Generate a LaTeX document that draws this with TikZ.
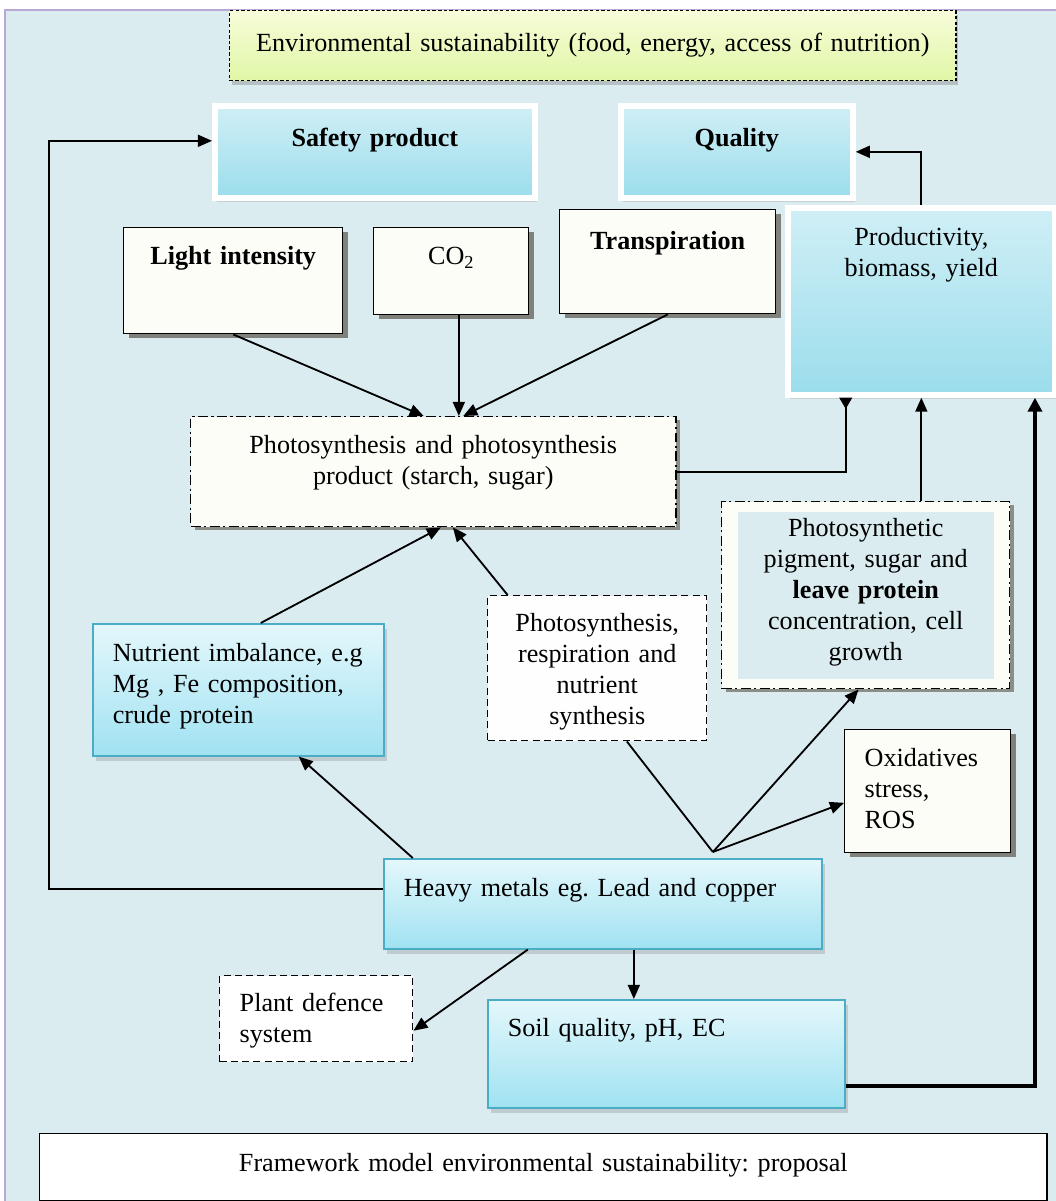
\documentclass[tikz,border=0pt]{standalone}
\usepackage{fontspec}
\setmainfont{Liberation Serif}
\usetikzlibrary{positioning,shadows,arrows.meta,calc}
\frenchspacing
\definecolor{bgblue}{RGB}{219,236,240}
\definecolor{framelilac}{RGB}{185,168,214}
\definecolor{cyanedge}{RGB}{75,172,198}
\definecolor{cyantop}{RGB}{228,247,251}
\definecolor{cyanbot}{RGB}{160,226,242}
\definecolor{beveltop}{RGB}{208,239,246}
\definecolor{bevelbot}{RGB}{155,221,236}
\definecolor{envtop}{RGB}{247,252,218}
\definecolor{envbot}{RGB}{224,247,166}
\definecolor{paper}{RGB}{253,253,248}
\definecolor{shade}{RGB}{118,118,110}
\newcommand{\fwfont}{\fontsize{18.6}{22.05}\selectfont\hyphenpenalty=10000}
\tikzset{
  fwnode/.style={anchor=north west, inner xsep=0.5cm, inner ysep=0pt,
                 font=\fwfont, align=center},
  fwpaper/.style={fwnode, draw=black, line width=1pt, fill=paper,
                  drop shadow={shadow xshift=0.14cm, shadow yshift=-0.1cm, fill=shade, opacity=.9}},
  fwcyan/.style={fwnode, draw=cyanedge, line width=1.1pt, top color=cyantop, bottom color=cyanbot,
                 drop shadow={shadow xshift=0.08cm, shadow yshift=-0.12cm, opacity=.3}},
  fwbevel/.style={fwnode, draw=white, line width=4pt, top color=beveltop, bottom color=bevelbot,
                  drop shadow={shadow xshift=0.06cm, shadow yshift=-0.1cm, opacity=.25}},
  fwenv/.style={fwnode, draw=black, line width=1pt, dash pattern=on 2.5pt off 1.5pt,
                top color=envtop, bottom color=envbot,
                drop shadow={shadow xshift=0.05cm, shadow yshift=-0.1cm, opacity=.4}},
  fwdash/.style={fwnode, draw=black, line width=1pt, dash pattern=on 5pt off 3pt, fill=paper},
  fwdashdot/.style={fwnode, draw=black, line width=1pt, dash pattern=on 7pt off 2.5pt on 1.5pt off 2.5pt,
                    fill=paper, drop shadow={shadow xshift=0.1cm, shadow yshift=-0.08cm, fill=shade, opacity=.8}},
  fwlink/.style={draw=black, line width=1.3pt, -{Triangle[length=10pt,width=8.5pt]}},
  fwjoin/.style={draw=black, line width=1.3pt},
  fwthick/.style={draw=black, line width=3.2pt, -{Triangle[length=10pt,width=10pt]}},
}

\begin{document}
\begin{tikzpicture}[x=0.025cm, y=-0.025cm]

      \useasboundingbox (0,0) rectangle (1056,1201);
      \fill[bgblue] (5,10) rectangle (1056,1201);
      \draw[framelilac, line width=1.2pt] (5,1201) -- (5,10) -- (1056,10);

      \node[fwenv, text width=17.15cm, text height=1.025cm, text depth=0.725cm] (env) at (229,10)
        {Environmental sustainability (food, energy, access of nutrition)};
      \node[fwbevel, text width=7cm, text height=1.025cm, text depth=1.275cm] (safety) at (212,103)
        {\textbf{Safety product}};
      \node[fwbevel, text width=4.8cm, text height=1.025cm, text depth=1.275cm] (quality) at (618,103)
        {\textbf{Quality}};

      \node[fwpaper, text width=4.475cm, text height=0.925cm, text depth=1.725cm] (light) at (123,227)
        {\textbf{Light intensity}};
      \node[fwpaper, text width=2.875cm, text height=0.925cm, text depth=1.25cm] (cotwo) at (373,227)
        {CO\textsubscript{2}};
      \node[fwpaper, text width=4.4cm, text height=1cm, text depth=1.6cm] (transp) at (559,209)
        {\textbf{Transpiration}};
      \node[fwbevel, text width=5.675cm, text height=0.95cm, text depth=3.725cm] (prod) at (785,205)
        {Productivity,\\ biomass, yield};

      \node[fwdashdot, text width=11.125cm, text height=0.925cm, text depth=1.825cm] (photo) at (190,416)
        {Photosynthesis and photosynthesis\\ product (starch, sugar)};
      \node[fwdashdot, text width=6.2cm, text height=0.875cm, text depth=3.8cm,
            path picture={\fill[bgblue] ([xshift=0.4cm,yshift=0.25cm]path picture bounding box.south west)
              rectangle ([xshift=-0.4cm,yshift=-0.25cm]path picture bounding box.north east);}] (pigment) at (721,501)
        {Photosynthetic\\ pigment, sugar and\\ \textbf{leave protein}\\ concentration, cell\\ growth};
      \node[fwcyan, align=left, text width=6.275cm, text height=0.95cm, text depth=2.35cm] (nutri) at (92,623)
        {\mbox{Nutrient imbalance, e.g}\\ \mbox{Mg , Fe composition,}\\ crude protein};
      \node[fwdash, fill=white!96!bgblue, text width=4.475cm, text height=0.9cm, text depth=2.725cm] (resp) at (487,595)
        {Photosynthesis,\\ respiration and\\ nutrient\\ synthesis};
      \node[fwpaper, align=left, text width=3.15cm, text height=0.925cm, text depth=2.15cm] (oxid) at (844,729)
        {Oxidatives\\ stress,\\ ROS};

      \node[fwcyan, align=left, text width=9.95cm, text height=0.95cm, text depth=1.3cm] (heavy) at (383,858)
        {Heavy metals eg. Lead and copper};
      \node[fwdash, fill=white, align=left, text width=3.825cm, text height=0.9cm, text depth=1.25cm] (defence) at (219,975)
        {Plant defence\\ system};
      \node[fwcyan, align=left, text width=7.925cm, text height=0.925cm, text depth=1.775cm] (soil) at (487,999)
        {Soil quality, pH, EC};
      \node[fwnode, draw=black, line width=1pt, fill=white, text width=24.175cm, text height=0.95cm, text depth=0.725cm] (caption) at (39,1133)
        {Framework model environmental sustainability: proposal};

      \coordinate (leftrail) at (49,888);
      \coordinate (hub) at ([xshift=2.75cm,yshift=0.15cm]heavy.north);

      \draw[fwlink] ([yshift=0.375cm]heavy.west) -| (leftrail) |- ([yshift=0.275cm]safety.west);
      \draw[fwlink] (prod.north) |- (quality.east);

      \draw[fwlink] (light.south) -- ([xshift=-0.24cm]photo.north);
      \draw[fwlink] ([xshift=0.19cm]cotwo.south) -- ([xshift=0.19cm]cotwo.south |- photo.north);
      \draw[fwlink] (transp.south) -- ([xshift=0.75cm]photo.north);
      \draw[fwlink, -{Triangle[reversed,length=8pt,width=9pt]}] (photo.east) -| ([xshift=-1.89cm]prod.south);
      \draw[fwlink] (prod.south |- pigment.north) -- (prod.south);
      \draw[fwthick] ([yshift=-0.8cm]soil.east) -| ([xshift=2.84cm]prod.south);

      \draw[fwlink] ([xshift=0.56cm]nutri.north) -- ([xshift=0.19cm]photo.south);
      \draw[fwlink] ([xshift=-2.24cm]resp.north) -- ([xshift=0.49cm]photo.south);
      \draw[fwlink] ([xshift=-4.75cm]heavy.north) -- ([xshift=1.51cm]nutri.south);

      \draw[fwjoin] (hub) -- ([xshift=0.74cm]resp.south);
      \draw[fwlink] (hub) -- ([xshift=-0.18cm]pigment.south);
      \draw[fwlink] (hub) -- ([yshift=-0.29cm]oxid.west);

      \draw[fwlink] ([xshift=-1.875cm]heavy.south) -- ([yshift=-0.3cm]defence.east);
      \draw[fwlink] ([xshift=0.775cm]heavy.south) -- ([xshift=0.775cm]heavy.south |- soil.north);

\end{tikzpicture}
\end{document}
